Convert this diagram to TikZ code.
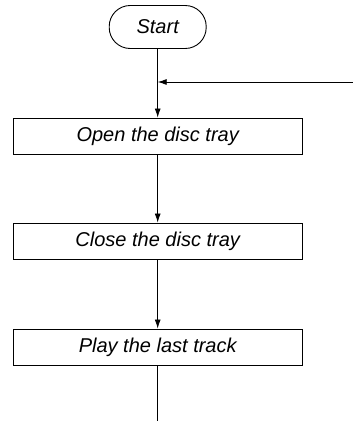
\documentclass[tikz,border=0pt]{standalone}
\usepackage{fontspec}
\setmainfont{Liberation Sans}
\usetikzlibrary{arrows.meta}
\begin{document}
\begin{tikzpicture}[x=1pt,y=1pt,
    txt/.style={font=\fontsize{20}{24}\selectfont\itshape},
    term/.style={txt,draw,line width=.9pt,rounded corners=21pt,minimum width=97pt,minimum height=43pt,inner sep=0pt},
    flow/.style={txt,draw,line width=.9pt,minimum width=289pt,minimum height=36pt,inner sep=0pt},
    link/.style={line width=.8pt,-{Latex[length=9pt,width=6pt]}}]
      \useasboundingbox (0,0) rectangle (353,421);
      \node[term] (start) at (157.7,394) {Start};
      \foreach \n/\y/\t in {%
        open/285/Open the disc tray, close/180/Close the disc tray, play/74/Play the last track
      }{
        \node[flow] (\n) at (157.7,\y) {\t};
      }
      \coordinate (join) at (157.7,339);
      \coordinate (back) at (353,339);
      \coordinate (out) at (157.7,0);
      \draw[link] (back) -- (join);
      \draw[link] (start) -- (open);
      \draw[link] (open) -- (close);
      \draw[link] (close) -- (play);
      \draw[line width=.8pt] (play) -- (out);
    \end{tikzpicture}
\end{document}
